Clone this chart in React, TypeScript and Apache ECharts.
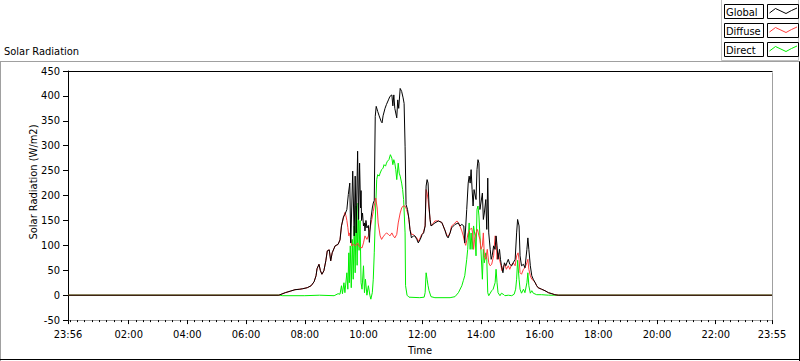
import React, { useEffect, useRef } from "react";
import * as echarts from "echarts";

const TITLE = "Solar Radiation";
const X_AXIS_NAME = "Time";
const Y_AXIS_NAME = "Solar Radiation (W/m2)";
const xTickLabels = ["23:56", "02:00", "04:00", "06:00", "08:00", "10:00", "12:00", "14:00", "16:00", "18:00", "20:00", "22:00", "23:55"];
const Y_MIN = -50;
const Y_MAX = 450;
const Y_STEP = 50;
const MINOR_TICK_MINUTES = 15;
const legendNames = ["Global", "Diffuse", "Direct"];
const lineColors: Record<string, string> = { Global: "#000000", Diffuse: "#ff3c3c", Direct: "#00ee00" };

const globalData: [string, number][] = [
  ["23:56", 0], ["07:07", 0], ["07:20", 5], ["07:30", 8], ["07:40", 11], ["07:50", 12], ["07:56", 13], ["08:05", 15],
  ["08:13", 19], ["08:19", 27], ["08:23", 39], ["08:25", 53], ["08:29", 62], ["08:32", 49], ["08:35", 42], ["08:39", 49],
  ["08:43", 69], ["08:46", 89], ["08:50", 91], ["08:53", 69], ["08:56", 85], ["09:02", 99], ["09:08", 102], ["09:12", 111],
  ["09:15", 139], ["09:19", 157], ["09:22", 162], ["09:26", 172], ["09:29", 202], ["09:32", 225], ["09:34", 105], ["09:38", 249],
  ["09:41", 119], ["09:43", 239], ["09:45", 125], ["09:48", 289], ["09:50", 152], ["09:52", 265], ["09:54", 175], ["09:55", 210],
  ["09:56", 150], ["09:58", 165], ["10:00", 139], ["10:02", 145], ["10:03", 129], ["10:05", 150], ["10:07", 135], ["10:10", 140],
  ["10:12", 106], ["10:13", 125], ["10:15", 152], ["10:18", 175], ["10:20", 185], ["10:22", 190], ["10:24", 359], ["10:26", 379],
  ["10:29", 369], ["10:32", 360], ["10:36", 349], ["10:38", 346], ["10:40", 360], ["10:44", 375], ["10:47", 383], ["10:51", 392],
  ["10:54", 399], ["10:58", 402], ["11:00", 380], ["11:02", 402], ["11:04", 375], ["11:08", 356], ["11:10", 392], ["11:12", 375],
  ["11:15", 415], ["11:18", 409], ["11:21", 396], ["11:23", 385], ["11:25", 299], ["11:27", 182], ["11:30", 172], ["11:33", 152],
  ["11:35", 132], ["11:38", 115], ["11:42", 119], ["11:45", 119], ["11:49", 112], ["11:52", 105], ["11:56", 112], ["12:00", 122],
  ["12:03", 125], ["12:06", 139], ["12:08", 219], ["12:10", 232], ["12:12", 225], ["12:14", 179], ["12:16", 152], ["12:18", 139],
  ["12:22", 142], ["12:26", 145], ["12:33", 149], ["12:40", 146], ["12:43", 139], ["12:47", 129], ["12:50", 119], ["12:53", 115],
  ["12:57", 125], ["13:00", 135], ["13:07", 142], ["13:14", 145], ["13:17", 139], ["13:21", 142], ["13:25", 139], ["13:27", 105],
  ["13:31", 172], ["13:34", 225], ["13:36", 239], ["13:38", 225], ["13:40", 252], ["13:42", 212], ["13:44", 179], ["13:46", 212],
  ["13:50", 192], ["13:52", 252], ["13:54", 272], ["13:56", 265], ["13:58", 172], ["14:00", 185], ["14:03", 205], ["14:05", 152],
  ["14:07", 165], ["14:10", 192], ["14:12", 132], ["14:14", 235], ["14:16", 125], ["14:19", 92], ["14:21", 72], ["14:23", 79],
  ["14:26", 99], ["14:29", 92], ["14:31", 119], ["14:33", 99], ["14:35", 72], ["14:38", 92], ["14:40", 72], ["14:42", 59],
  ["14:45", 45], ["14:48", 65], ["14:51", 59], ["14:53", 65], ["14:56", 72], ["14:59", 62], ["15:03", 59], ["15:06", 65],
  ["15:10", 72], ["15:13", 125], ["15:15", 152], ["15:18", 139], ["15:20", 79], ["15:23", 59], ["15:27", 62], ["15:30", 55],
  ["15:34", 92], ["15:36", 115], ["15:38", 92], ["15:41", 59], ["15:44", 39], ["15:47", 32], ["15:51", 25], ["15:54", 19],
  ["15:57", 15], ["16:04", 12], ["16:11", 9], ["16:18", 5], ["16:25", 3], ["16:31", 1], ["16:38", 0], ["23:55", 0],
];

const diffuseData: [string, number][] = [
  ["23:56", 0], ["07:07", 0], ["07:20", 5], ["07:30", 8], ["07:40", 11], ["07:50", 12], ["07:56", 13], ["08:05", 15],
  ["08:13", 19], ["08:19", 27], ["08:23", 39], ["08:25", 53], ["08:29", 62], ["08:32", 49], ["08:35", 42], ["08:39", 49],
  ["08:43", 69], ["08:46", 89], ["08:50", 91], ["08:53", 69], ["08:56", 85], ["09:02", 99], ["09:08", 102], ["09:12", 111],
  ["09:15", 139], ["09:19", 155], ["09:22", 166], ["09:24", 160], ["09:26", 150], ["09:28", 136], ["09:30", 119], ["09:32", 125],
  ["09:34", 110], ["09:36", 99], ["09:40", 102], ["09:44", 99], ["09:48", 105], ["09:51", 98], ["09:54", 96], ["09:57", 95],
  ["10:00", 105], ["10:03", 119], ["10:07", 112], ["10:10", 119], ["10:13", 132], ["10:17", 152], ["10:20", 168], ["10:23", 185],
  ["10:25", 195], ["10:28", 175], ["10:30", 145], ["10:34", 119], ["10:37", 112], ["10:40", 117], ["10:44", 122], ["10:47", 125],
  ["10:51", 122], ["10:54", 119], ["10:58", 125], ["11:01", 119], ["11:04", 115], ["11:08", 122], ["11:11", 145], ["11:15", 165],
  ["11:18", 175], ["11:21", 179], ["11:25", 179], ["11:28", 172], ["11:32", 159], ["11:35", 132], ["11:38", 122], ["11:42", 122],
  ["11:45", 119], ["11:49", 115], ["11:52", 108], ["11:56", 115], ["11:59", 122], ["12:02", 125], ["12:06", 139], ["12:08", 212],
  ["12:10", 205], ["12:12", 192], ["12:14", 172], ["12:17", 145], ["12:19", 139], ["12:23", 145], ["12:26", 149], ["12:33", 149],
  ["12:40", 146], ["12:43", 139], ["12:47", 129], ["12:51", 119], ["12:53", 118], ["12:57", 125], ["13:00", 139], ["13:04", 142],
  ["13:07", 145], ["13:11", 149], ["13:14", 145], ["13:17", 139], ["13:21", 129], ["13:24", 119], ["13:27", 105], ["13:29", 100],
  ["13:32", 115], ["13:34", 125], ["13:38", 132], ["13:41", 135], ["13:43", 125], ["13:45", 92], ["13:47", 112], ["13:50", 125],
  ["13:53", 132], ["13:56", 119], ["13:58", 112], ["14:00", 92], ["14:03", 99], ["14:05", 125], ["14:07", 79], ["14:10", 72],
  ["14:13", 92], ["14:16", 65], ["14:19", 59], ["14:22", 62], ["14:26", 79], ["14:29", 119], ["14:31", 115], ["14:33", 72],
  ["14:35", 85], ["14:38", 72], ["14:41", 59], ["14:43", 49], ["14:46", 59], ["14:49", 62], ["14:52", 52], ["14:56", 59],
  ["14:59", 52], ["15:03", 62], ["15:06", 65], ["15:10", 59], ["15:13", 79], ["15:16", 85], ["15:18", 72], ["15:20", 45],
  ["15:23", 42], ["15:27", 52], ["15:30", 55], ["15:34", 65], ["15:36", 72], ["15:38", 52], ["15:41", 39], ["15:44", 32],
  ["15:47", 30], ["15:51", 25], ["15:54", 19], ["15:57", 15], ["16:04", 12], ["16:11", 9], ["16:18", 5], ["16:25", 3],
  ["16:31", 1], ["16:38", 0], ["23:55", 0],
];

const directData: [string, number][] = [
  ["23:56", 0], ["07:09", 0], ["07:14", -1], ["08:00", -1], ["08:30", 0], ["09:00", -1], ["09:08", 3], ["09:12", 2],
  ["09:15", 19], ["09:17", 3], ["09:20", 25], ["09:22", 5], ["09:26", 45], ["09:28", 12], ["09:30", 85], ["09:31", 25],
  ["09:33", 99], ["09:35", 15], ["09:37", 112], ["09:39", 32], ["09:41", 139], ["09:43", 45], ["09:45", 179], ["09:47", 60],
  ["09:49", 185], ["09:51", 90], ["09:53", 150], ["09:55", 25], ["09:57", 12], ["10:00", 59], ["10:02", 5], ["10:04", 32],
  ["10:07", 0], ["10:10", 19], ["10:13", 0], ["10:15", -8], ["10:18", 5], ["10:20", 32], ["10:22", 85], ["10:25", 179],
  ["10:27", 232], ["10:29", 242], ["10:32", 239], ["10:34", 245], ["10:37", 252], ["10:40", 255], ["10:42", 262], ["10:45", 259],
  ["10:47", 265], ["10:49", 269], ["10:52", 272], ["10:55", 282], ["10:58", 275], ["11:00", 262], ["11:02", 272], ["11:04", 265],
  ["11:06", 252], ["11:08", 232], ["11:11", 265], ["11:13", 245], ["11:15", 239], ["11:18", 225], ["11:20", 212], ["11:22", 192],
  ["11:25", 125], ["11:26", 19], ["11:29", 0], ["11:33", -4], ["11:55", -5], ["12:04", -4], ["12:06", 5], ["12:08", 45],
  ["12:10", 32], ["12:12", 19], ["12:14", 9], ["12:18", -3], ["12:26", -5], ["12:57", -5], ["13:07", -3], ["13:14", 5],
  ["13:21", 19], ["13:24", 29], ["13:27", 39], ["13:31", 72], ["13:33", 92], ["13:36", 145], ["13:38", 92], ["13:40", 125],
  ["13:42", 92], ["13:45", 139], ["13:48", 119], ["13:50", 79], ["13:52", 172], ["13:54", 179], ["13:56", 159], ["13:58", 119],
  ["14:00", 92], ["14:03", 32], ["14:05", 92], ["14:07", 65], ["14:10", 85], ["14:12", 72], ["14:14", 5], ["14:16", -1],
  ["14:22", 9], ["14:25", 12], ["14:29", 25], ["14:31", 52], ["14:33", 25], ["14:35", 5], ["14:39", -1], ["14:42", 4],
  ["14:47", 1], ["14:49", -1], ["14:56", 0], ["15:03", -1], ["15:08", 2], ["15:11", 12], ["15:13", 32], ["15:15", 70],
  ["15:18", 32], ["15:20", 12], ["15:23", 4], ["15:27", 12], ["15:30", 5], ["15:34", 25], ["15:36", 45], ["15:38", 19],
  ["15:41", 4], ["15:44", 9], ["15:47", 4], ["15:54", 1], ["16:04", 1], ["16:18", 0], ["23:55", 0],
];

const FONT = "'DejaVu Sans Condensed', 'DejaVu Sans', 'Liberation Sans', sans-serif";
const START_MIN = 23 * 60 + 56;
const GRID = { left: 68, top: 71, width: 704, height: 250 };

function toAxis(hhmm: string): number {
  const [h, m] = hhmm.split(":").map(Number);
  return (h * 60 + m - START_MIN + 1440) % 1440;
}
function pad(n: number): string {
  return n < 10 ? "0" + n : String(n);
}
function fromAxis(v: number): string {
  const md = (Math.round(v) + START_MIN) % 1440;
  return pad(Math.floor(md / 60)) + ":" + pad(md % 60);
}
function seg(x1: number, y1: number, x2: number, y2: number, stroke: string) {
  return { type: "line", shape: { x1, y1, x2, y2 }, style: { stroke, lineWidth: 1 } };
}

export default function App() {
  const ref = useRef<HTMLDivElement>(null);
  useEffect(() => {
    if (!ref.current) return;
    const chart = echarts.init(ref.current, undefined, { renderer: "svg" });
    const majorVals = xTickLabels.map(toAxis);
    const xMax = toAxis(xTickLabels[xTickLabels.length - 1]);
    const minorVals: number[] = [];
    for (let v = toAxis("00:00"); v <= xMax; v += MINOR_TICK_MINUTES) minorVals.push(v);

    const seriesMap: Record<string, [string, number][]> = { Global: globalData, Diffuse: diffuseData, Direct: directData };
    const drawOrder = ["Direct", "Diffuse", "Global"];

    const gl = GRID.left + 0.5;
    const gt = GRID.top + 0.5;
    const gr = GRID.left + GRID.width + 0.5;
    const gb = GRID.top + GRID.height + 0.5;

    const textStyle = { fontFamily: FONT, fontSize: 11, fill: "#000" };
    const legendGraphics: any[] = [];
    legendNames.forEach((name, i) => {
      const y = 4.5 + i * 19;
      legendGraphics.push({
        type: "rect",
        shape: { x: 724.5, y, width: 39, height: 14 },
        style: { fill: "#fff", stroke: "#000", lineWidth: 1 },
      });
      legendGraphics.push({
        type: "text",
        x: 726,
        y: y + 7.5,
        style: { ...textStyle, text: name, textAlign: "left", textVerticalAlign: "middle" },
      });
      legendGraphics.push({
        type: "rect",
        shape: { x: 767.5, y, width: 31, height: 14 },
        style: { fill: "#fff", stroke: "#000", lineWidth: 1 },
      });
      legendGraphics.push({
        type: "polyline",
        shape: {
          points: [
            [769.5, y + 8.5],
            [775.5, y + 4],
            [786, y + 9],
            [791.5, y + 6],
            [797, y + 3.5],
          ],
        },
        style: { stroke: lineColors[name], lineWidth: 1, fill: "none" },
      });
    });

    chart.setOption({
      animation: false,
      backgroundColor: "#ffffff",
      grid: { ...GRID, show: false, containLabel: false },
      xAxis: [
        {
          type: "value",
          position: "bottom",
          min: 0,
          max: xMax,
          axisLine: { show: true, onZero: false, lineStyle: { color: "#a0a0a0", width: 1 } },
          axisTick: { show: true, length: 4, customValues: majorVals, lineStyle: { color: "#000" } },
          axisLabel: {
            show: true,
            customValues: majorVals,
            formatter: (v: number) => fromAxis(v),
            margin: 9,
            color: "#000",
            fontFamily: FONT,
            fontSize: 11,
            hideOverlap: false,
            showMinLabel: true,
            showMaxLabel: true,
          },
          splitLine: { show: false },
          name: X_AXIS_NAME,
          nameLocation: "middle",
          nameGap: 22,
          nameTextStyle: { color: "#000", fontFamily: FONT, fontSize: 11 },
        },
        {
          type: "value",
          position: "bottom",
          min: 0,
          max: xMax,
          axisLine: { show: false, onZero: false },
          axisTick: { show: true, length: 2, customValues: minorVals, lineStyle: { color: "#000" } },
          axisLabel: { show: false },
          splitLine: { show: false },
        },
      ],
      yAxis: {
        type: "value",
        position: "left",
        min: Y_MIN,
        max: Y_MAX,
        interval: Y_STEP,
        axisLine: { show: true, onZero: false, lineStyle: { color: "#000", width: 1 } },
        axisTick: { show: true, length: 5, lineStyle: { color: "#000", width: 1 } },
        axisLabel: { margin: 8, color: "#000", fontFamily: FONT, fontSize: 11 },
        splitLine: { show: false },
      },
      series: drawOrder.map((name) => ({
        name,
        type: "line",
        xAxisIndex: 0,
        yAxisIndex: 0,
        showSymbol: false,
        symbol: "none",
        clip: true,
        lineStyle: { color: lineColors[name], width: 1 },
        itemStyle: { color: lineColors[name] },
        data: seriesMap[name].map(([t, v]) => [toAxis(t), v]),
      })),
      graphic: [
        seg(gl, gt, gr, gt, "#000"),
        seg(gl, gt, gl, gb, "#000"),
        seg(gr, gt + 1, gr, gb, "#a0a0a0"),
        seg(0, 61.5, 800, 61.5, "#a0a0a0"),
        seg(0.5, 61.5, 0.5, 361, "#a0a0a0"),
        seg(0, 359.5, 800, 359.5, "#000"),
        seg(799.5, 61.5, 799.5, 361, "#000"),
        {
          type: "rect",
          shape: { x: 721.5, y: -1, width: 77, height: 61.5 },
          style: { fill: "#fff", stroke: "#c0c0c0", lineWidth: 1 },
        },
        {
          type: "text",
          x: 4,
          y: 51,
          style: { ...textStyle, text: TITLE, textAlign: "left", textVerticalAlign: "middle" },
        },
        {
          type: "text",
          x: 33,
          y: 182,
          rotation: Math.PI / 2,
          style: { ...textStyle, text: Y_AXIS_NAME, textAlign: "center", textVerticalAlign: "middle" },
        },
        ...legendGraphics,
      ],
    });
    return () => chart.dispose();
  }, []);
  return <div ref={ref} style={{ position: "absolute", left: 0, top: 0, width: 800, height: 361 }} />;
}
